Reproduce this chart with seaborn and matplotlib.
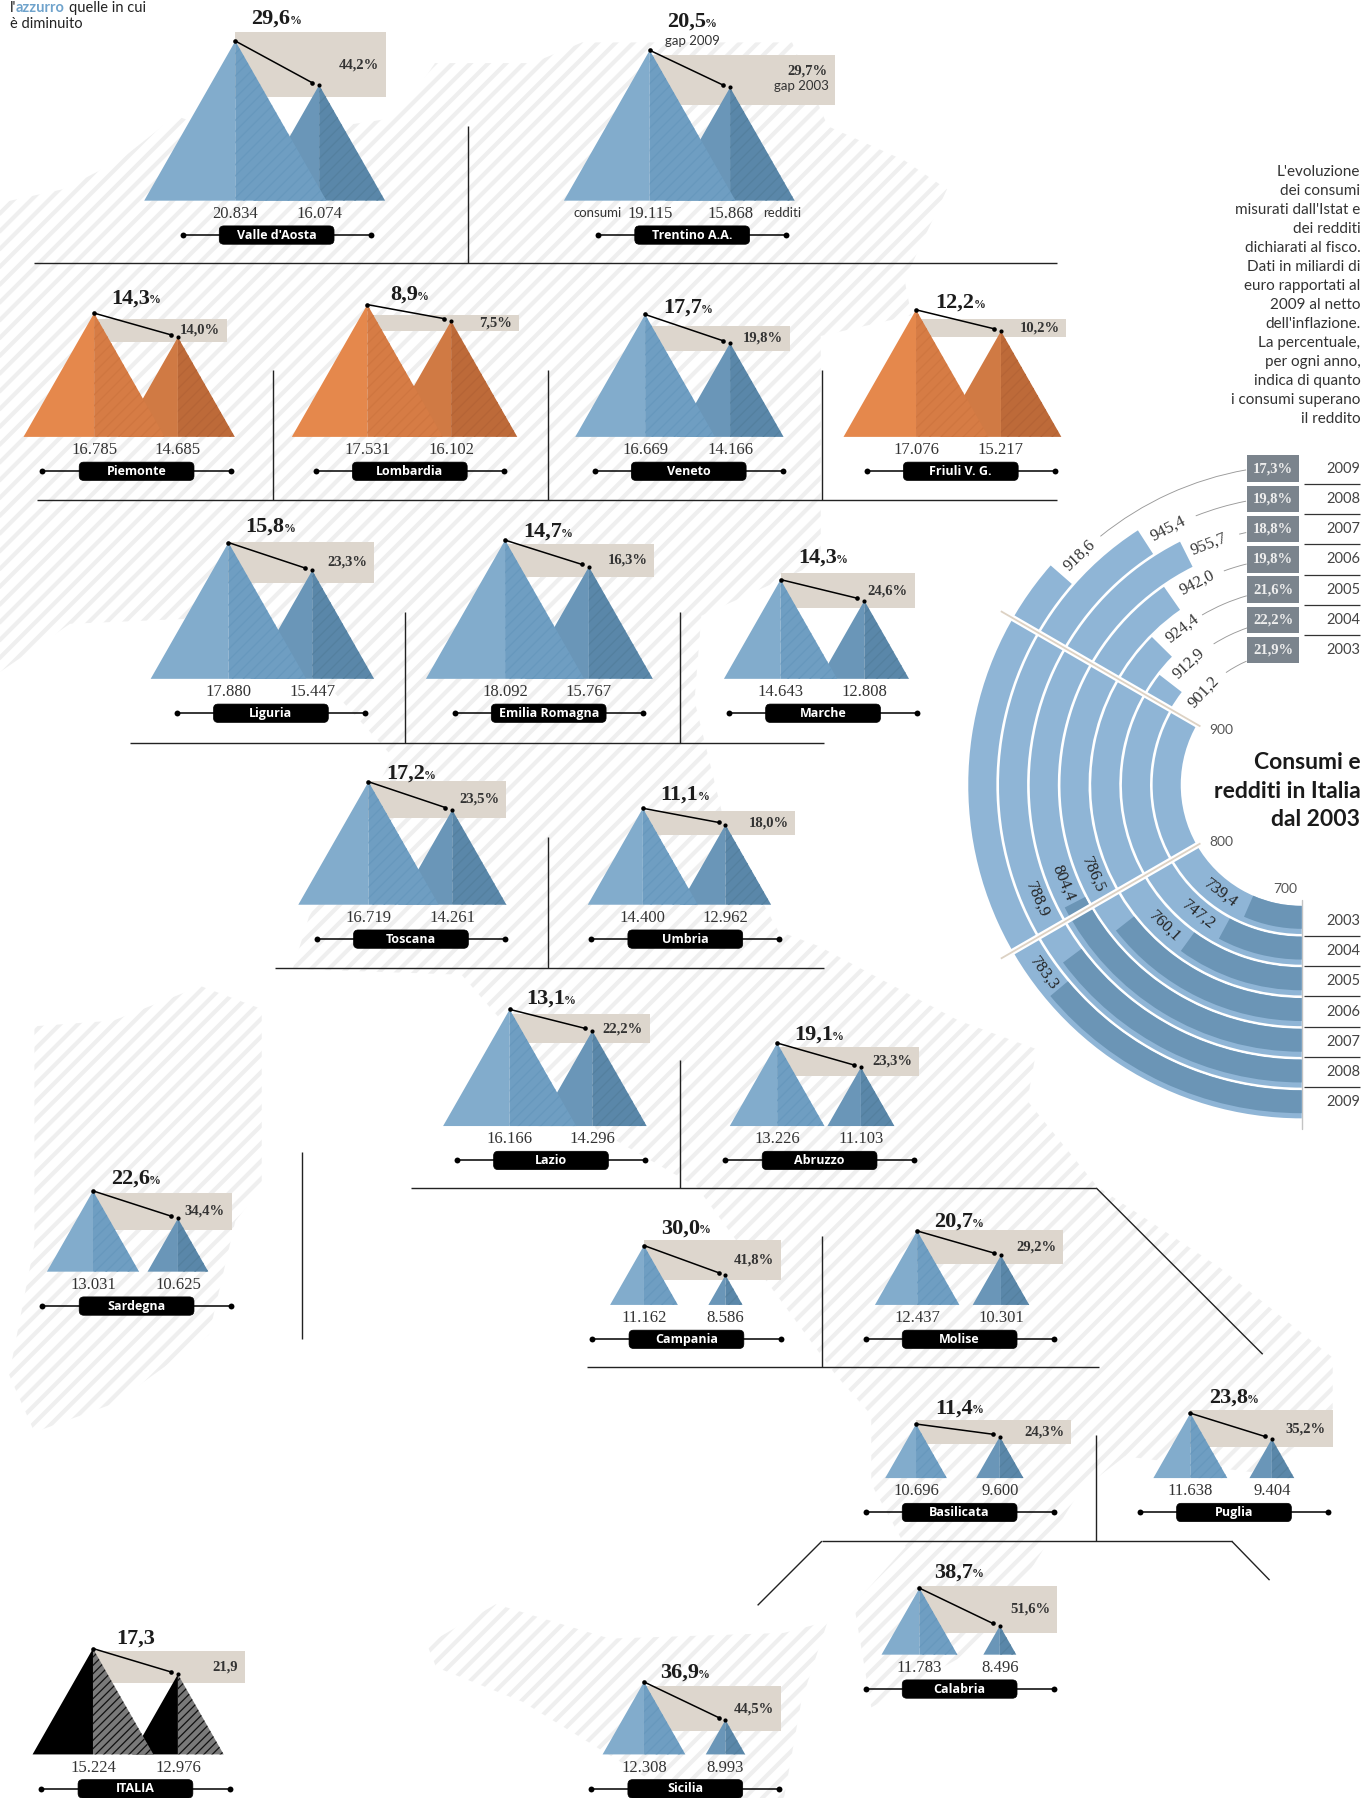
import numpy as np
import pandas as pd
import matplotlib
matplotlib.use("Agg")
import matplotlib.pyplot as plt
import seaborn as sns
from matplotlib.collections import LineCollection
from matplotlib.patches import FancyBboxPatch, Polygon, Rectangle

sns.set_theme(style="white")
plt.rcParams['font.family'] = ['Lato', 'DejaVu Sans']
plt.rcParams['hatch.linewidth'] = 0.9

SERIF = 'Liberation Serif'

# regional data
regions = ["Valle d'Aosta", "Trentino A.A.", "Piemonte", "Lombardia", "Veneto", "Friuli V. G.",
           "Liguria", "Emilia Romagna", "Marche", "Toscana", "Umbria", "Lazio", "Abruzzo",
           "Sardegna", "Campania", "Molise", "Basilicata", "Puglia", "Calabria", "Sicilia", "ITALIA"]
consumi = [20834, 19115, 16785, 17531, 16669, 17076, 17880, 18092, 14643, 16719, 14400,
           16166, 13226, 13031, 11162, 12437, 10696, 11638, 11783, 12308, 15224]
redditi = [16074, 15868, 14685, 16102, 14166, 15217, 15447, 15767, 12808, 14261, 12962,
           14296, 11103, 10625, 8586, 10301, 9600, 9404, 8496, 8993, 12976]
gap_2009 = [29.6, 20.5, 14.3, 8.9, 17.7, 12.2, 15.8, 14.7, 14.3, 17.2, 11.1,
            13.1, 19.1, 22.6, 30.0, 20.7, 11.4, 23.8, 38.7, 36.9, 17.3]
gap_2003 = [44.2, 29.7, 14.0, 7.5, 19.8, 10.2, 23.3, 16.3, 24.6, 23.5, 18.0,
            22.2, 23.3, 34.4, 41.8, 29.2, 24.3, 35.2, 51.6, 44.5, 21.9]

# national series for the half circle
years = [2003, 2004, 2005, 2006, 2007, 2008, 2009]
naz_consumi = [901.2, 912.9, 924.4, 942.0, 955.7, 945.4, 918.6]
naz_redditi = [739.4, 747.2, 760.1, 786.5, 804.4, 788.9, 783.3]
naz_gap = [21.9, 22.2, 21.6, 19.8, 18.8, 19.8, 17.3]

# layout of the panels
tip_x = [205, 566, 82, 320, 562, 798, 199, 440, 680, 321, 560, 444, 677, 81, 561, 799, 798, 1037, 801, 561, 81]
tip2_x = [278, 636, 155, 393, 636, 872, 272, 513, 753, 394, 632, 516, 750, 155, 632, 872, 871, 1108, 871, 632, 155]
base_y = [175, 175, 381, 381, 381, 381, 592, 592, 592, 789, 789, 982, 982, 1109, 1138, 1138, 1289, 1289, 1443, 1530, 1530]
center_x = [241, 603, 119, 357, 600, 837, 236, 478, 717, 358, 597, 480, 714, 119, 598, 836, 836, 1075, 836, 597, 118]
title_y = [16, 19, 260, 257, 268, 264, 459, 464, 486, 675, 693, 871, 902, 1028, 1071, 1065, 1228, 1219, 1371, 1459, 1429]
band_right = [336, 727, 198, 452, 688, 929, 326, 570, 797, 441, 693, 566, 801, 202, 680, 926, 933, 1161, 921, 680, 213]
band_top = [28, 48, 278, 275, 284, 278, 473, 474, 500, 681, 707, 884, 913, 1040, 1081, 1073, 1238, 1230, 1383, 1470, 1440]
band_bottom = [85, 92, 298, 289, 306, 294, 508, 503, 530, 713, 728, 910, 938, 1073, 1116, 1102, 1259, 1262, 1424, 1510, 1468]

mainland = [(0, 177), (55, 165), (104, 140), (153, 101), (214, 122), (336, 104), (354, 92), (379, 55), (464, 55),
            (507, 37), (690, 37), (721, 110), (788, 140), (825, 165), (788, 244), (794, 275), (715, 293), (715, 490),
            (611, 537), (605, 611), (635, 733), (678, 812), (713, 825), (835, 890), (903, 915), (895, 960), (956, 1035),
            (1062, 1105), (1161, 1184), (1161, 1234), (1100, 1285), (980, 1270), (941, 1300), (857, 1434), (759, 1489),
            (744, 1399), (789, 1349), (759, 1294), (759, 1234), (728, 1199), (607, 1035), (520, 985), (402, 850),
            (255, 845), (269, 800), (342, 660), (275, 586), (202, 538), (61, 544), (0, 586)]
sardegna = [(175, 860), (228, 880), (228, 1035), (205, 1065), (182, 1164), (99, 1224), (30, 1249), (8, 1199),
            (30, 1085), (30, 895), (99, 890)]
sicilia = [(372, 1434), (432, 1399), (531, 1429), (683, 1424), (721, 1414), (698, 1484), (683, 1568), (592, 1568),
           (455, 1484), (380, 1454)]


def height_of(v):
    # scale, flattens a bit above the Trentino value
    return 0.00998 * (min(v, 19115) - 5971) + 0.0047 * max(v - 19115, 0)


def comma(v):
    return f"{v:.1f}".replace('.', ',')


fig = plt.figure(figsize=(13.66, 17.98), dpi=100)
ax = fig.add_axes([0, 0, 1, 1])
ax.set_zorder(1)
renderer = fig.canvas.get_renderer()

# striped map of Italy behind everything
stripes = [[(x, 1600), (x + 1600, 0)] for x in np.arange(-1600, 1300, 15.5)]
for shape in [mainland, sardegna, sicilia]:
    mask = Polygon(shape, closed=True, facecolor='none', edgecolor='none')
    ax.add_patch(mask)
    lc = LineCollection(stripes, colors='#efefef', linewidths=3.0, zorder=0.5)
    ax.add_collection(lc)
    lc.set_clip_path(mask)

# dividers
rules = [((408, 110), (408, 229)), ((30, 229), (921, 229)),
         ((238, 323), (238, 436)), ((477, 323), (477, 436)), ((716, 323), (716, 436)), ((32, 436), (921, 436)),
         ((353, 534), (353, 648)), ((592, 534), (592, 648)), ((113, 648), (718, 648)),
         ((477, 730), (477, 844)), ((240, 844), (718, 844)),
         ((592, 924), (592, 1036)), ((358, 1036), (955, 1036)), ((955, 1036), (1100, 1181)),
         ((716, 1078), (716, 1192)), ((511, 1192), (957, 1192)), ((263, 1005), (263, 1168)),
         ((955, 1251), (955, 1344)), ((716, 1344), (1073, 1344)), ((716, 1344), (660, 1400)), ((1073, 1344), (1106, 1378))]
ax.add_collection(LineCollection(rules, colors='#222222', linewidths=1.0, zorder=1))


def half(points, face, edge, hatch=None):
    ax.add_patch(Polygon(points, closed=True, facecolor=face, edgecolor=edge, hatch=hatch, lw=0, zorder=3))


def mountain(x, base, value, colors, hatch):
    h = height_of(value)
    w = 0.57 * h
    half([(x - w, base), (x, base - h), (x, base)], colors[0], colors[0])
    half([(x, base), (x, base - h), (x + w, base)], colors[1], colors[2], hatch)
    return base - h


BLUE = [('#82accc', '#6f9ec2', '#6798bd'), ('#6a96b8', '#5a87a9', '#54809f')]
ORANGE = [('#e5884c', '#d67c45', '#cf7640'), ('#d07a44', '#bd6a39', '#b56436')]
BLACK = [('#000000', '#7a7a7a', '#111111'), ('#000000', '#7a7a7a', '#111111')]

rows = []
pill_ends = []
for i, name in enumerate(regions):
    if name == 'ITALIA':
        pal, hatch = BLACK, '////'
    elif gap_2009[i] > gap_2003[i]:
        pal, hatch = ORANGE, '///'
    else:
        pal, hatch = BLUE, '///'
    base = base_y[i]
    ax.add_patch(Rectangle((tip_x[i], band_top[i]), band_right[i] - tip_x[i], band_bottom[i] - band_top[i],
                           facecolor='#ddd6cd', lw=0, zorder=2))
    y2 = mountain(tip2_x[i], base, redditi[i], pal[1], hatch)
    y1 = mountain(tip_x[i], base, consumi[i], pal[0], hatch)
    rows.append({'region': name, 'x': tip_x[i], 'y': y1})
    rows.append({'region': name, 'x': tip2_x[i] - 6, 'y': y2 - 2})

    for x, v in [(tip_x[i], consumi[i]), (tip2_x[i], redditi[i])]:
        ax.text(x, base + 11.5, f"{v:,}".replace(',', '.'), family=SERIF, fontsize=12, color='#333333',
                ha='center', va='center', zorder=5)

    # pill with the name
    cx = center_x[i]
    py = base + 30
    ax.plot([cx - 82, cx + 82], [py, py], color='black', lw=1.1, zorder=4)
    pill_ends += [{'x': cx - 82, 'y': py}, {'x': cx + 82, 'y': py}]
    ax.add_patch(FancyBboxPatch((cx - 50, py - 8), 100, 16, boxstyle='round,pad=0,rounding_size=4',
                                facecolor='black', edgecolor='black', lw=0.5, zorder=5))
    ax.text(cx, py, name, color='white', fontsize=9, fontweight='bold', family='Open Sans',
            ha='center', va='center', zorder=6)

    # gap of 2009 above, small percent sign next to it
    suffix = '' if name == 'ITALIA' else '%'
    num = ax.text(cx, title_y[i], comma(gap_2009[i]), family=SERIF, fontsize=16, fontweight='bold',
                  color='#1c1c1c', ha='right', va='center', zorder=5)
    w_num = num.get_window_extent(renderer).width / 1.148
    shift = w_num / 2 - 5 if suffix else w_num / 2
    num.set_x(cx + shift)
    if suffix:
        ax.text(cx + shift - 1, title_y[i] + 2, '%', family=SERIF, fontsize=8.5, fontweight='bold', color='#1c1c1c',
                ha='left', va='center', zorder=5)

    # gap of 2003 inside the band
    by = (band_top[i] + band_bottom[i]) / 2
    if name.startswith('Trentino'):
        by = 62
    ax.text(band_right[i] - 6, by, comma(gap_2003[i]) + suffix, family=SERIF, fontsize=10.5, fontweight='bold',
            color='#333333', ha='right', va='center', zorder=5)

tips = pd.DataFrame(rows)
sns.lineplot(data=tips, x='x', y='y', units='region', estimator=None, sort=False, color='black', lw=1.1,
             legend=False, ax=ax, zorder=6)
sns.scatterplot(data=tips, x='x', y='y', color='black', s=11, linewidth=0, legend=False, ax=ax, zorder=7)
ends = pd.DataFrame({'x': tip2_x, 'y': [base_y[i] - height_of(v) for i, v in enumerate(redditi)]})
sns.scatterplot(data=ends, x='x', y='y', color='black', s=9, linewidth=0, legend=False, ax=ax, zorder=7)
sns.scatterplot(data=pd.DataFrame(pill_ends), x='x', y='y', color='black', s=18, linewidth=0, legend=False, ax=ax, zorder=5)
ax.set_xlim(0, 1190)
ax.set_ylim(1568, 0)
ax.axis('off')

# notes on the Trentino panel
ax.text(603, 36, 'gap 2009', fontsize=9.5, color='#333333', ha='center', va='center', zorder=5)
ax.text(722, 75, 'gap 2003', fontsize=9.5, color='#333333', ha='right', va='center', zorder=5)
ax.text(521, 186, 'consumi', fontsize=9.5, color='#333333', ha='center', va='center', zorder=5)
ax.text(681, 186, 'redditi', fontsize=9.5, color='#333333', ha='center', va='center', zorder=5)

# legend at the top edge
ax.text(8.5, 7, "l'", fontsize=10.5, color='#222222', va='center', zorder=5)
ax.text(14, 7, 'azzurro', fontsize=10.5, fontweight='bold', color='#6fa3cc', va='center', zorder=5)
ax.text(60, 7, 'quelle in cui', fontsize=10.5, color='#222222', va='center', zorder=5)
ax.text(8.5, 21, 'è diminuito', fontsize=10.5, color='#222222', va='center', zorder=5)

# text on the right
note = ["L'evoluzione", "dei consumi", "misurati dall'Istat e", "dei redditi", "dichiarati al fisco.",
        "Dati in miliardi di", "euro rapportati al", "2009 al netto", "dell'inflazione.", "La percentuale,",
        "per ogni anno,", "indica di quanto", "i consumi superano", "il reddito"]
for k, line in enumerate(note):
    ax.text(1185, 150 + k * 16.6, line, fontsize=11, color='#333333', ha='right', va='center', zorder=5)
for k, line in enumerate(["Consumi e", "redditi in Italia", "dal 2003"]):
    ax.text(1185, 665 + k * 25, line, fontsize=16.5, fontweight='bold', color='#1a1a1a', ha='right', va='center', zorder=5)

# year boxes and year labels
for i, yr in enumerate(years):
    yy = 567 - i * 26.4
    ax.add_patch(Rectangle((1086, yy - 11.5), 46, 23, facecolor='#7b848d', lw=0, zorder=3))
    ax.text(1109, yy, comma(naz_gap[i]) + '%', family=SERIF, fontsize=10.5, fontweight='bold', color='#eeeeee',
            ha='center', va='center', zorder=5)
    ax.text(1185, yy, str(yr), family='Lato', fontsize=10.5, color='#444444', ha='right', va='center', zorder=5)
    ax.text(1185, 803 + i * 26.4, str(yr), family='Lato', fontsize=10.5, color='#444444', ha='right', va='center', zorder=5)
year_rules = [((1136, 422 + k * 26.4), (1185, 422 + k * 26.4)) for k in range(6)]
year_rules += [((1136, 816 + k * 26.4), (1185, 816 + k * 26.4)) for k in range(6)]
ax.add_collection(LineCollection(year_rules, colors='#333333', linewidths=0.9, zorder=3))
ax.plot([1134, 1134], [785, 985], color='#c4c4c4', lw=1, zorder=3)
for txt, tx, ty in [('700', 1120, 775), ('800', 1064, 734), ('900', 1064, 637)]:
    ax.text(tx, ty, txt, family='Lato', fontsize=10, color='#555555', ha='center', va='center', zorder=5)

# half circle: 700 at the bottom, 0.6 degrees per unit
CX, CY, RMAX = 1134, 684.5, 320
pol = fig.add_axes([(CX - RMAX) / 1190, 1 - (CY + RMAX) / 1568, 2 * RMAX / 1190, 2 * RMAX / 1568], projection='polar')
pol.set_zorder(2)
pol.patch.set_visible(False)
pol.set_theta_zero_location('S')
pol.set_theta_direction(-1)
pol.set_rlim(0, RMAX)


def to_theta(v):
    return np.radians((v - 700) * 0.6)


R0, STEP, THICK = 105.5, 26.8, 24.5
for i in range(len(years)):
    r = R0 + i * STEP
    pol.bar(0, THICK, width=to_theta(naz_consumi[i]), bottom=r, align='edge', color='#8fb5d6', linewidth=0)
    pol.bar(0, 20, width=to_theta(naz_redditi[i]), bottom=r, align='edge', color='#6b95b6', linewidth=0)

for v in [800, 900]:
    t = to_theta(v)
    pol.plot([t, t], [102, 303], color='white', lw=4.5, solid_capstyle='butt')
    pol.plot([t, t], [102, 303], color='#ddd2c4', lw=1.3, solid_capstyle='butt')

# angles of the value labels, in degrees from the bottom
up_angle = [133.6, 137, 142.6, 152.7, 158.8, 152.4, 136]
down_angle = [37, 38.4, 44, 66.8, 67.6, 66.5, 53.9]
lead_from = [146, 148, 149.6, 160, 166, 158.5, 141]
lead_to = [156, 160.8, 163.8, 166, 167.6, 168.9, 170]
for i in range(len(years)):
    mid = R0 + i * STEP + THICK / 2
    pol.text(np.radians(up_angle[i]), mid, comma(naz_consumi[i]), family=SERIF, fontsize=12, color='#333333',
             rotation=180 - up_angle[i], rotation_mode='anchor', ha='center', va='center')
    pol.text(np.radians(down_angle[i]), mid, comma(naz_redditi[i]), family=SERIF, fontsize=12, color='#222222',
             rotation=-down_angle[i], rotation_mode='anchor', ha='center', va='center')
    pol.bar(np.radians(lead_from[i]), 0.8, width=np.radians(lead_to[i] - lead_from[i]), bottom=mid, align='edge',
            color='#9a9a9a', linewidth=0)
pol.set_rlim(0, RMAX)
pol.axis('off')

fig.savefig('out.png', dpi=100)
